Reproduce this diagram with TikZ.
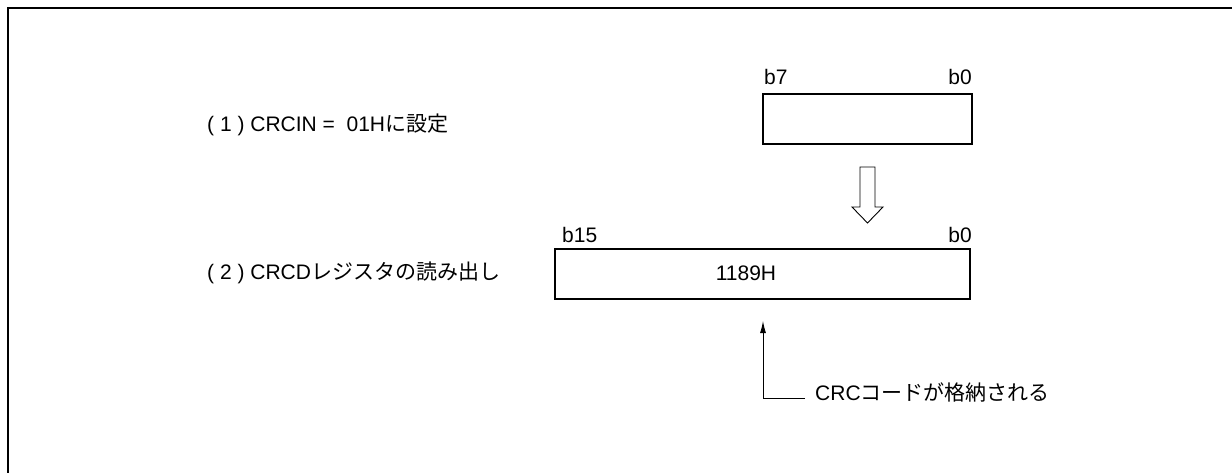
\documentclass[tikz,border=0pt]{standalone}
\usepackage{fontspec}
\setmainfont{Liberation Sans}
\newfontfamily\jp{Noto Sans CJK JP}
\usetikzlibrary{arrows.meta}
\begin{document}
\begin{tikzpicture}[x=1pt,y=-1pt,
  txt/.style={font=\fontsize{21}{25}\selectfont, inner sep=0pt},
  reg/.style={draw, line width=2pt, inner sep=0pt},
  frameline/.style={line width=2pt},
  pointer/.style={line width=0.9pt}]
\useasboundingbox (0,0) rectangle (1232,473);
\draw[frameline] (8,473) -- (8,8) -- (1232,8);

% small register
\node[reg, minimum width=209pt, minimum height=50pt] (rin) at (867.5,119) {};
\node[txt, anchor=west] (b7) at (764,77) {b7};
\node[txt, anchor=east] (b0a) at (972,77) {b0};
\node[txt, anchor=west] (l1) at (207,125) {( 1 ) CRCIN =\ \ 01H{\jp に設定}};

% big register
\node[reg, minimum width=415pt, minimum height=50pt] (rout) at (762.5,274) {};
\node[txt] (val) at (746,273) {1189H};
\node[txt, anchor=west] (b15) at (562,235) {b15};
\node[txt, anchor=east] (b0b) at (972,235) {b0};
\node[txt, anchor=west] (l2) at (207,273) {( 2 ) CRCD{\jp レジスタの読み出し}};

% hollow arrow
\draw[line width=0.9pt, fill=white] (860,167) -- (875,167) -- (875,207) -- (883,207)
  -- (867.5,223) -- (852,207) -- (860,207) -- cycle;

% note
\node[txt, anchor=west] (note) at (815,392) {CRC{\jp コードが格納される}};
\coordinate (corner) at (763,398);
\coordinate (tip) at (763,321);
\draw[pointer, -{Latex[length=12pt,width=6pt]}] (note.west |- corner) ++(-10,0) -- (corner) -- (tip);
\end{tikzpicture}
\end{document}
